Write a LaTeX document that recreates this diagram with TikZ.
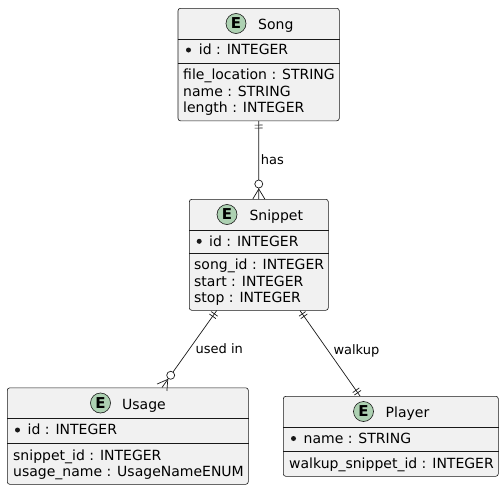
\documentclass[tikz,border=0pt]{standalone}
\usepackage{fontspec}
\setmainfont{DejaVu Sans}
\usetikzlibrary{calc}
\definecolor{boxfill}{HTML}{F1F1F1}
\definecolor{boxline}{HTML}{181818}
\definecolor{entgreen}{HTML}{ADD1B2}
\newcommand\erbars[2]{%
  \path ($(#1)!4pt!(#2)$) coordinate (erP) ($(#1)!7pt!(#2)$) coordinate (erQ);
  \draw[conn] ($(erP)!4pt!90:(#2)$) -- ($(erP)!4pt!-90:(#2)$);
  \draw[conn] ($(erQ)!4pt!90:(#2)$) -- ($(erQ)!4pt!-90:(#2)$);}
\newcommand\ermany[2]{%
  \path ($(#1)!10pt!(#2)$) coordinate (erA) ($(#1)!15pt!(#2)$) coordinate (erC);
  \draw[conn] (erA) -- ($(#1)!6pt!90:(#2)$);
  \draw[conn] (erA) -- ($(#1)!6pt!-90:(#2)$);
  \draw[conn, fill=white] (erC) circle[radius=4pt];}
\begin{document}
\begin{tikzpicture}[x=1pt,y=-1pt,
  entbox/.style={draw=boxline, fill=boxfill, line width=0.6pt, rounded corners=2.5pt,
    inner sep=0pt, anchor=north west, rectangle},
  entcirc/.style={circle, draw=boxline, fill=entgreen, line width=0.6pt,
    minimum size=20pt, inner sep=0pt, font=\fontsize{15}{16}\selectfont\bfseries},
  hdr/.style={anchor=base west, inner sep=0pt, font=\fontsize{14}{16}\selectfont},
  attr/.style={anchor=base west, inner sep=0pt, font=\fontsize{14}{16}\selectfont},
  lbl/.style={anchor=base west, inner sep=0pt, font=\fontsize{13}{15}\selectfont},
  sepa/.style={draw=boxline, line width=0.5pt},
  sepb/.style={draw=boxline, line width=0.9pt},
  bul/.style={circle, fill=boxline, inner sep=0pt, minimum size=5pt},
  conn/.style={draw=boxline, line width=0.7pt}]
\useasboundingbox (0,0) rectangle (504,490);

% ---- Song
\node[entbox, minimum width=161.3pt, minimum height=112.5pt] (song) at (177.7,8) {};
\node[entcirc] (songC) at (236,23.5) {E};
\node[hdr] (songT) at (258,29.3) {Song};
\draw[sepa] (song.west |- 0,39) -- (song.east |- 0,39);
\node[bul] (songB) at (188.5,50) {};
\node[attr] (songA1) at (198.7,54.8) {id : INTEGER};
\draw[sepb] (song.west |- 0,63) -- (song.east |- 0,63);
\node[attr] (songA2) at (183,79.8) {file\_location : STRING};
\node[attr] (songA3) at (183,96.1) {name : STRING};
\node[attr] (songA4) at (183,112.4) {length : INTEGER};

% ---- Snippet
\node[entbox, minimum width=139pt, minimum height=111pt] (snippet) at (189,199) {};
\node[entcirc] (snipC) at (227,214.5) {E};
\node[hdr] (snipT) at (249.3,220) {Snippet};
\draw[sepa] (snippet.west |- 0,230) -- (snippet.east |- 0,230);
\node[bul] (snipB) at (199.2,241.3) {};
\node[attr] (snipA1) at (209,246) {id : INTEGER};
\draw[sepb] (snippet.west |- 0,253) -- (snippet.east |- 0,253);
\node[attr] (snipA2) at (194,269.8) {song\_id : INTEGER};
\node[attr] (snipA3) at (194,286.1) {start : INTEGER};
\node[attr] (snipA4) at (194,302.4) {stop : INTEGER};

% ---- Usage
\node[entbox, minimum width=241pt, minimum height=96.5pt] (usage) at (7,387.5) {};
\node[entcirc] (useC) at (100.5,403) {E};
\node[hdr] (useT) at (122,409) {Usage};
\draw[sepa] (usage.west |- 0,418.5) -- (usage.east |- 0,418.5);
\node[bul] (useB) at (17.5,430) {};
\node[attr] (useA1) at (27.5,434.5) {id : INTEGER};
\draw[sepb] (usage.west |- 0,443.3) -- (usage.east |- 0,443.3);
\node[attr] (useA2) at (13,460.1) {snippet\_id : INTEGER};
\node[attr] (useA3) at (13,476.4) {usage\_name : UsageNameENUM};

% ---- Player
\node[entbox, minimum width=215pt, minimum height=80pt] (player) at (283,396) {};
\node[entcirc] (plC) at (363.5,411.5) {E};
\node[hdr] (plT) at (385.5,417) {Player};
\draw[sepa] (player.west |- 0,427) -- (player.east |- 0,427);
\node[bul] (plB) at (293.5,438.5) {};
\node[attr] (plA1) at (303.5,443.3) {name : STRING};
\draw[sepb] (player.west |- 0,451) -- (player.east |- 0,451);
\node[attr] (plA2) at (289,468) {walkup\_snippet\_id : INTEGER};

% ---- connectors
\coordinate (c1a) at (song.south);
\coordinate (c1b) at (snippet.north);
\coordinate (c2a) at ([xshift=27.7pt]snippet.south west);
\coordinate (c2b) at ([xshift=155pt]usage.north west);
\coordinate (c3a) at ([xshift=111pt]snippet.south west);
\coordinate (c3b) at ([xshift=77pt]player.north west);

\draw[conn] (c1a) -- (c1b);
\erbars{c1a}{c1b}
\ermany{c1b}{c1a}
\node[lbl] (lhas) at (260.7,164) {has};

\draw[conn] (c2a) -- (c2b);
\erbars{c2a}{c2b}
\ermany{c2b}{c2a}
\node[lbl] (lused) at (195.5,353) {used in};

\draw[conn] (c3a) -- (c3b);
\erbars{c3a}{c3b}
\erbars{c3b}{c3a}
\node[lbl] (lwalk) at (333.3,354) {walkup};
\end{tikzpicture}
\end{document}
